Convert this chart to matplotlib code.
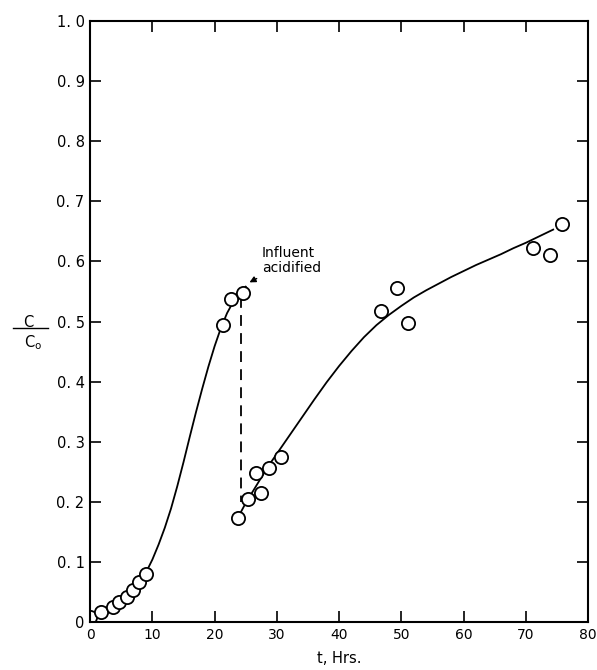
import numpy as np
import matplotlib
matplotlib.use('Agg')
import matplotlib.pyplot as plt

# measured points, before acidification
t_early = [0.0, 1.8, 3.7, 4.6, 5.9, 6.9, 7.8, 9.0, 21.3, 22.7, 24.6]
c_early = [0.008, 0.017, 0.025, 0.033, 0.042, 0.053, 0.067, 0.080, 0.495, 0.537, 0.548]

# measured points, after acidification
t_late = [23.7, 25.3, 27.4, 26.6, 28.8, 30.7, 46.7, 49.3, 51.0, 71.2, 73.9, 75.8]
c_late = [0.173, 0.205, 0.215, 0.248, 0.257, 0.275, 0.517, 0.555, 0.498, 0.623, 0.610, 0.663]

# hand drawn curves
curve1_t = [0.0, 1.8, 3.7, 5.8, 7.0, 8.0, 9.0, 10.0, 11.0, 12.0, 13.0, 14.0, 15.0,
            16.0, 17.0, 18.0, 19.0, 20.0, 21.0, 22.0, 23.0, 24.0, 25.0]
curve1_c = [0.003, 0.015, 0.025, 0.042, 0.053, 0.066, 0.083, 0.104, 0.129, 0.157,
            0.189, 0.226, 0.266, 0.308, 0.349, 0.388, 0.425, 0.459, 0.489, 0.514,
            0.533, 0.547, 0.558]

curve2_t = [23.7, 25.0, 26.0, 27.0, 28.0, 29.0, 30.0, 32.0, 34.0, 36.0, 38.0, 40.0,
            42.0, 44.0, 46.0, 48.0, 50.0, 52.0, 54.0, 56.0, 58.0, 60.0, 62.0, 64.0,
            66.0, 68.0, 70.0, 72.0, 74.4]
curve2_c = [0.173, 0.198, 0.215, 0.232, 0.249, 0.265, 0.280, 0.310, 0.340, 0.370,
            0.399, 0.426, 0.451, 0.474, 0.494, 0.511, 0.526, 0.540, 0.552, 0.563,
            0.574, 0.584, 0.594, 0.603, 0.612, 0.622, 0.631, 0.641, 0.653]

# dashed drop when influent was acidified
drop_t = [24.2, 24.2]
drop_c = [0.54, 0.20]

xticks = [0, 10, 20, 30, 40, 50, 60, 70, 80]
xlabels = ['0', '10', '20', '30', '40', '50', '60', '70', '80']
yticks = [0, 0.1, 0.2, 0.3, 0.4, 0.5, 0.6, 0.7, 0.8, 0.9, 1.0]
ylabels = ['0', '0. 1', '0. 2', '0. 3', '0. 4', '0. 5', '0. 6', '0. 7', '0. 8', '0. 9', '1. 0']

plt.rcParams['font.family'] = ['DejaVu Sans Condensed', 'DejaVu Sans']

fig = plt.figure(figsize=(5.97, 6.70), dpi=100)
ax = fig.add_axes([0.151, 0.0716, 0.834, 0.897])

ax.plot(curve1_t, curve1_c, 'k-', lw=1.3)
ax.plot(curve2_t, curve2_c, 'k-', lw=1.3)
ax.plot(drop_t, drop_c, 'k--', lw=1.3, dashes=(6, 4))
ax.plot(t_early, c_early, 'o', ms=9.5, mfc='white', mec='k', mew=1.3)
ax.plot(t_late, c_late, 'o', ms=9.5, mfc='white', mec='k', mew=1.3)

ax.annotate('Influent\nacidified', xy=(25.2, 0.563), xytext=(27.6, 0.578),
            fontsize=10, ha='left', va='bottom', linespacing=1.1,
            arrowprops=dict(arrowstyle='-|>', color='k', lw=1.0, mutation_scale=9))

ax.set_xlim(0, 80)
ax.set_ylim(0, 1.0)
ax.set_xticks(xticks)
ax.set_xticklabels(xlabels, fontsize=10)
ax.set_yticks(yticks)
ax.set_yticklabels(ylabels, fontsize=10.5)
ax.tick_params(direction='in', length=8, width=1.2, top=True, right=True, pad=4)
for s in ax.spines.values():
    s.set_linewidth(1.5)

ax.set_xlabel('t, Hrs.', fontsize=10.5, labelpad=7)

# C / Co label
fig.text(0.047, 0.519, 'C', fontsize=10.5, ha='center', va='center')
fig.add_artist(plt.Line2D([0.022, 0.080], [0.511, 0.511], color='k', lw=1.0,
                          transform=fig.transFigure))
fig.text(0.055, 0.489, 'C$_\\mathrm{o}$', fontsize=10.5, ha='center', va='center')

fig.savefig('out.png', dpi=100)
